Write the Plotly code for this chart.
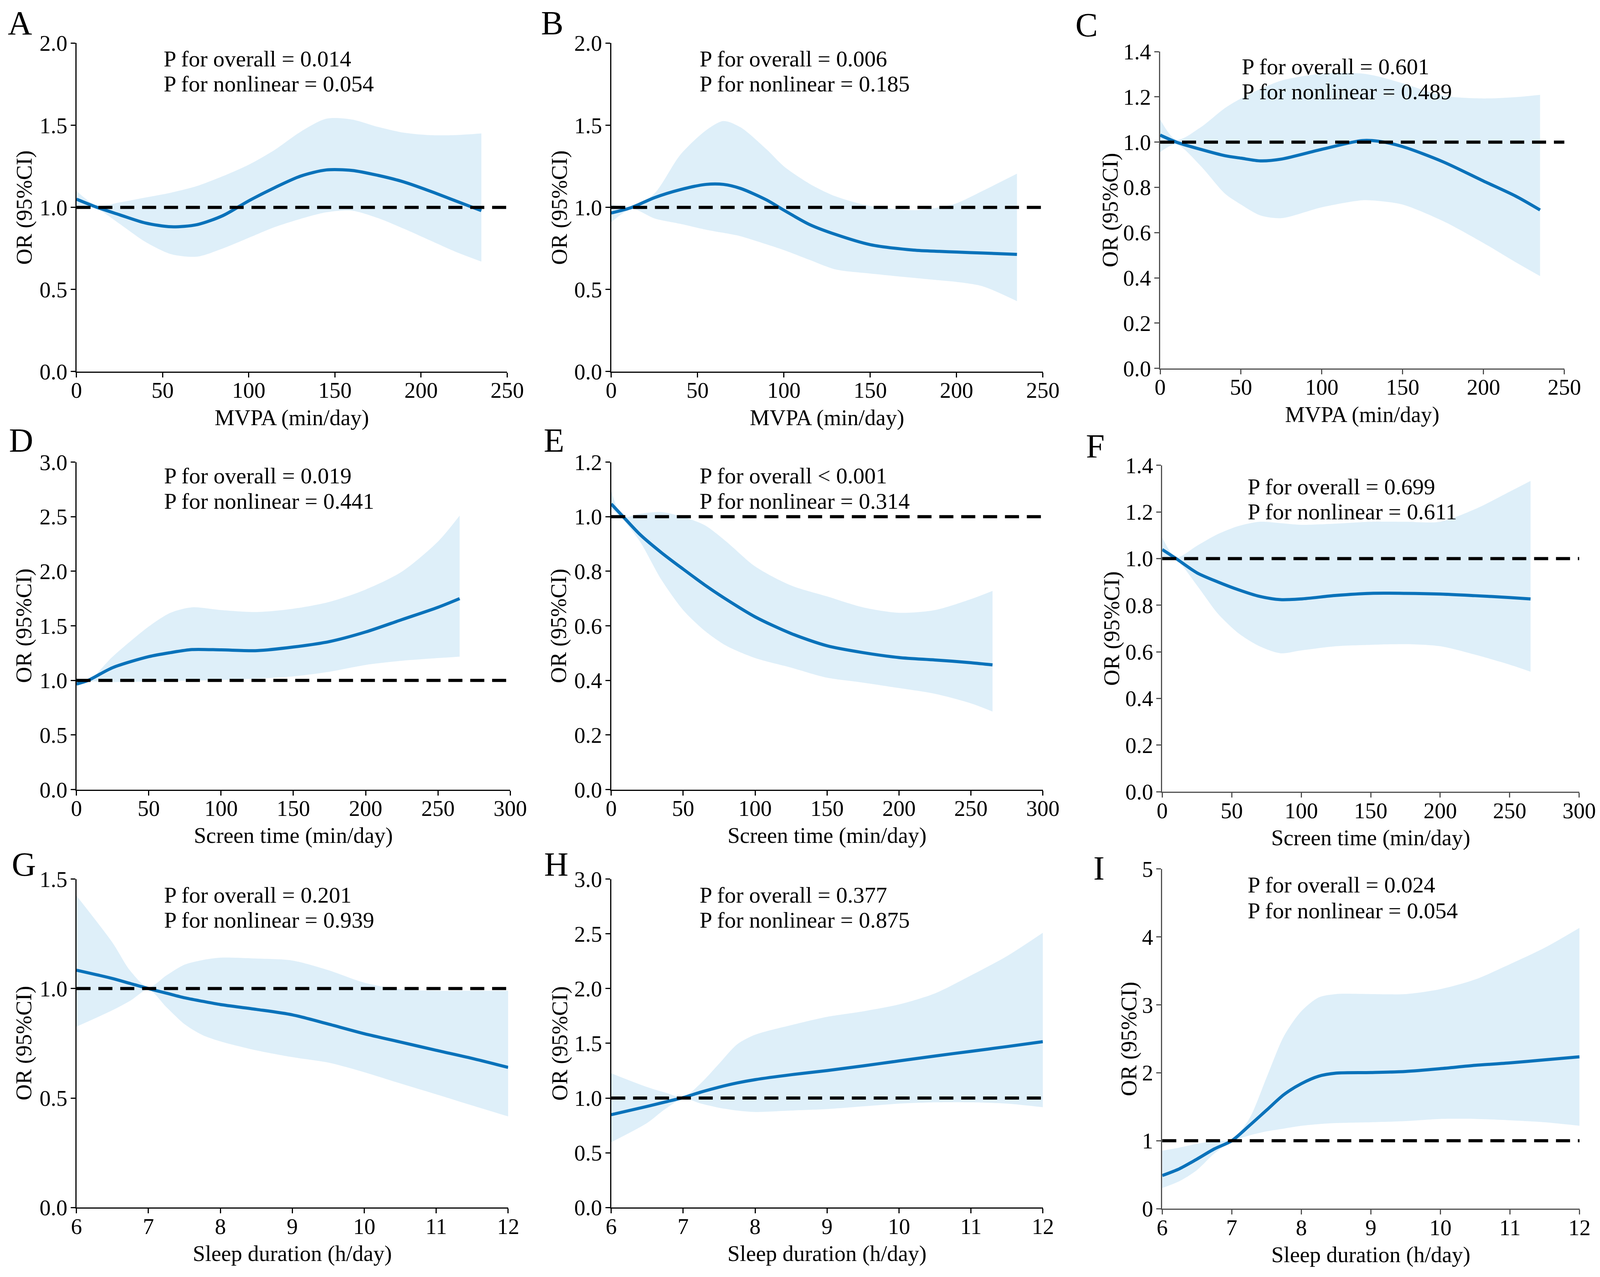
import plotly.graph_objects as go
from plotly.subplots import make_subplots

# ---------------- data ----------------
X_A = [0, 12, 25, 40, 55, 70, 85, 100, 115, 130, 145, 160, 175, 190, 205, 220, 235]
OR_A = [1.05, 1.00, 0.955, 0.905, 0.882, 0.895, 0.95, 1.04, 1.12, 1.19, 1.228, 1.225, 1.195, 1.155, 1.10, 1.04, 0.98]
HI_A = [1.10, 1.01, 1.03, 1.06, 1.09, 1.13, 1.19, 1.26, 1.35, 1.46, 1.54, 1.535, 1.49, 1.455, 1.44, 1.44, 1.45]
LO_A = [1.005, 0.99, 0.90, 0.79, 0.715, 0.70, 0.75, 0.815, 0.88, 0.93, 0.97, 0.98, 0.935, 0.87, 0.80, 0.73, 0.67]

X_B = [0, 12, 25, 40, 55, 65, 75, 90, 100, 115, 130, 150, 175, 190, 200, 215, 235]
OR_B = [0.966, 1.0, 1.059, 1.108, 1.14, 1.14, 1.115, 1.045, 0.983, 0.895, 0.835, 0.773, 0.74, 0.732, 0.728, 0.722, 0.714]
HI_B = [1.017, 1.0, 1.084, 1.32, 1.47, 1.526, 1.487, 1.353, 1.25, 1.143, 1.067, 1.008, 0.983, 1.0, 1.025, 1.10, 1.205]
LO_B = [0.91, 0.99, 0.933, 0.90, 0.864, 0.845, 0.824, 0.775, 0.74, 0.68, 0.622, 0.597, 0.571, 0.556, 0.546, 0.52, 0.429]

X_C = [0, 10, 25, 40, 50, 62, 75, 100, 125, 135, 150, 175, 200, 220, 235]
OR_C = [1.031, 1.0, 0.968, 0.94, 0.929, 0.917, 0.925, 0.968, 1.007, 1.004, 0.98, 0.913, 0.828, 0.761, 0.70]
HI_C = [1.10, 1.01, 1.065, 1.15, 1.193, 1.235, 1.272, 1.303, 1.303, 1.29, 1.26, 1.205, 1.193, 1.199, 1.209]
LO_C = [0.956, 0.99, 0.895, 0.773, 0.724, 0.676, 0.664, 0.712, 0.743, 0.74, 0.724, 0.651, 0.554, 0.469, 0.408]

X_D = [0, 8, 25, 50, 65, 80, 100, 125, 150, 175, 200, 225, 250, 265]
OR_D = [0.967, 1.0, 1.117, 1.218, 1.255, 1.283, 1.28, 1.273, 1.306, 1.356, 1.444, 1.557, 1.67, 1.75]
HI_D = [1.02, 1.0, 1.218, 1.494, 1.62, 1.67, 1.645, 1.627, 1.657, 1.72, 1.833, 1.996, 2.272, 2.51]
LO_D = [0.954, 0.99, 0.985, 0.99, 0.995, 0.998, 1.004, 1.017, 1.037, 1.08, 1.142, 1.18, 1.205, 1.218]

X_E = [0, 8, 20, 35, 50, 65, 80, 100, 125, 150, 175, 200, 225, 250, 265]
OR_E = [1.047, 1.002, 0.935, 0.868, 0.808, 0.75, 0.697, 0.633, 0.572, 0.527, 0.502, 0.484, 0.475, 0.465, 0.457]
HI_E = [1.095, 1.0, 1.011, 1.017, 0.999, 0.969, 0.909, 0.818, 0.748, 0.708, 0.668, 0.648, 0.658, 0.698, 0.728]
LO_E = [1.03, 0.99, 0.909, 0.768, 0.658, 0.582, 0.527, 0.482, 0.447, 0.41, 0.392, 0.372, 0.351, 0.316, 0.286]

X_F = [0, 10, 25, 40, 55, 70, 85, 100, 125, 150, 175, 200, 225, 250, 265]
OR_F = [1.039, 1.0, 0.939, 0.90, 0.866, 0.838, 0.824, 0.827, 0.842, 0.851, 0.851, 0.848, 0.841, 0.833, 0.827]
HI_F = [1.09, 1.005, 1.055, 1.105, 1.14, 1.158, 1.152, 1.145, 1.15, 1.158, 1.158, 1.158, 1.212, 1.287, 1.333]
LO_F = [1.006, 0.995, 0.885, 0.764, 0.679, 0.624, 0.594, 0.606, 0.624, 0.63, 0.633, 0.624, 0.588, 0.545, 0.515]

X_G = [6, 6.5, 6.75, 7, 7.25, 7.5, 7.75, 8, 8.5, 9, 9.5, 10, 10.5, 11, 11.5, 12]
OR_G = [1.084, 1.046, 1.023, 1.0, 0.979, 0.958, 0.942, 0.927, 0.905, 0.88, 0.838, 0.794, 0.756, 0.718, 0.681, 0.64]
HI_G = [1.424, 1.21, 1.08, 1.005, 1.06, 1.109, 1.13, 1.141, 1.137, 1.128, 1.084, 1.027, 0.996, 0.99, 0.99, 0.99]
LO_G = [0.826, 0.901, 0.945, 0.995, 0.915, 0.838, 0.788, 0.759, 0.718, 0.687, 0.662, 0.618, 0.567, 0.517, 0.466, 0.416]

X_H = [6, 6.5, 6.75, 7, 7.25, 7.5, 7.75, 8, 8.5, 9, 9.5, 10, 10.5, 11, 11.5, 12]
OR_H = [0.848, 0.924, 0.964, 1.004, 1.055, 1.1, 1.138, 1.168, 1.213, 1.251, 1.294, 1.339, 1.384, 1.427, 1.47, 1.515]
HI_H = [1.226, 1.10, 1.05, 1.01, 1.138, 1.314, 1.49, 1.578, 1.666, 1.742, 1.792, 1.855, 1.956, 2.12, 2.296, 2.51]
LO_H = [0.597, 0.773, 0.899, 0.995, 0.949, 0.911, 0.886, 0.873, 0.886, 0.899, 0.924, 0.949, 0.961, 0.961, 0.949, 0.916]

X_I = [6, 6.25, 6.5, 6.75, 7, 7.25, 7.5, 7.75, 8, 8.25, 8.5, 9, 9.5, 10, 10.5, 11, 11.5, 12]
OR_I = [0.488, 0.589, 0.73, 0.88, 1.0, 1.22, 1.45, 1.68, 1.84, 1.95, 1.995, 2.004, 2.02, 2.061, 2.11, 2.146, 2.191, 2.236]
HI_I = [0.854, 0.90, 0.955, 0.996, 1.02, 1.321, 1.931, 2.541, 2.907, 3.11, 3.159, 3.159, 3.159, 3.232, 3.374, 3.598, 3.841, 4.134]
LO_I = [0.305, 0.407, 0.569, 0.813, 0.99, 1.077, 1.138, 1.179, 1.22, 1.245, 1.26, 1.272, 1.289, 1.321, 1.321, 1.301, 1.272, 1.22]

LETTERS = ["A", "B", "C", "D", "E", "F", "G", "H", "I"]
X_TITLES = ["MVPA (min/day)"] * 3 + ["Screen time (min/day)"] * 3 + ["Sleep duration (h/day)"] * 3
Y_TITLE = "OR (95%CI)"
P_OVERALL = ["P for overall = 0.014", "P for overall = 0.006", "P for overall = 0.601",
             "P for overall = 0.019", "P for overall < 0.001", "P for overall = 0.699",
             "P for overall = 0.201", "P for overall = 0.377", "P for overall = 0.024"]
P_NONLIN = ["P for nonlinear = 0.054", "P for nonlinear = 0.185", "P for nonlinear = 0.489",
            "P for nonlinear = 0.441", "P for nonlinear = 0.314", "P for nonlinear = 0.611",
            "P for nonlinear = 0.939", "P for nonlinear = 0.875", "P for nonlinear = 0.054"]
X_RANGES = [[0, 250]] * 3 + [[0, 300]] * 3 + [[6, 12]] * 3
X_DTICK = [50] * 6 + [1] * 3
Y_RANGES = [[0, 2], [0, 2], [0, 1.4], [0, 3], [0, 1.2], [0, 1.4], [0, 1.5], [0, 3], [0, 5]]
Y_DTICK = [0.5, 0.5, 0.2, 0.5, 0.2, 0.2, 0.5, 0.5, 1]
Y_FMT = [".1f"] * 8 + ["d"]
REF_OR = 1.0

SERIES = [(X_A, OR_A, LO_A, HI_A), (X_B, OR_B, LO_B, HI_B), (X_C, OR_C, LO_C, HI_C),
          (X_D, OR_D, LO_D, HI_D), (X_E, OR_E, LO_E, HI_E), (X_F, OR_F, LO_F, HI_F),
          (X_G, OR_G, LO_G, HI_G), (X_H, OR_H, LO_H, HI_H), (X_I, OR_I, LO_I, HI_I)]

# ---------------- layout / style ----------------
X_DOMAINS = [[0.0478, 0.3170], [0.3820, 0.6518], [0.7251, 0.9777],
             [0.0478, 0.3189], [0.3820, 0.6518], [0.7264, 0.9870],
             [0.0478, 0.3176], [0.3820, 0.6518], [0.7264, 0.9872]]
Y_DOMAINS = [[0.7090, 0.9662], [0.7090, 0.9662], [0.7115, 0.9596],
             [0.3817, 0.6381], [0.3817, 0.6381], [0.3800, 0.6356],
             [0.0544, 0.3116], [0.0544, 0.3116], [0.0535, 0.3195]]
LETTER_POS = [(0.0125, 0.9818), (0.3450, 0.9818), (0.6790, 0.9805),
              (0.0133, 0.6550), (0.3463, 0.6550), (0.6845, 0.6505),
              (0.0148, 0.3232), (0.3476, 0.3232), (0.6869, 0.3200)]
YTITLE_X = [0.0151, 0.3496, 0.6940, 0.0149, 0.3490, 0.6947, 0.0149, 0.3498, 0.7055]
ANN_X = [0.201, 0.203, 0.200, 0.200, 0.203, 0.203, 0.201, 0.203, 0.203]
ANN_Y1 = [0.952, 0.952, 0.952, 0.958, 0.958, 0.935, 0.952, 0.952, 0.953]
ANN_Y2 = [0.876, 0.876, 0.874, 0.881, 0.881, 0.858, 0.875, 0.875, 0.877]
AXIS_COLORS = ["black", "black", "#505050"] * 3

FONT = "Liberation Serif"
LINE_COLOR = "#0A72BA"
BAND_COLOR = "#DEEFF9"
FS = 57

fig = make_subplots(rows=3, cols=3)

for i, (xs, orv, lo, hi) in enumerate(SERIES):
    r, c = i // 3 + 1, i % 3 + 1
    fig.add_trace(go.Scatter(x=xs, y=lo, mode="lines", line=dict(width=0, shape="spline", smoothing=0.8),
                             showlegend=False, hoverinfo="skip"), row=r, col=c)
    fig.add_trace(go.Scatter(x=xs, y=hi, mode="lines", line=dict(width=0, shape="spline", smoothing=0.8),
                             fill="tonexty", fillcolor=BAND_COLOR, showlegend=False, hoverinfo="skip"),
                  row=r, col=c)
    fig.add_trace(go.Scatter(x=xs, y=orv, mode="lines",
                             line=dict(color=LINE_COLOR, width=8, shape="spline", smoothing=0.8),
                             showlegend=False), row=r, col=c)
    fig.add_hline(y=REF_OR, line=dict(color="black", width=8, dash="36px,20px"), row=r, col=c)

for i in range(9):
    n = "" if i == 0 else str(i + 1)
    ac = AXIS_COLORS[i]
    fig.layout["xaxis" + n].update(
        domain=X_DOMAINS[i], range=X_RANGES[i], dtick=X_DTICK[i], tick0=X_RANGES[i][0],
        showline=True, linecolor=ac, linewidth=3, ticks="outside", ticklen=12, tickwidth=3,
        tickcolor=ac, showgrid=False, zeroline=False, automargin=False, ticklabelstandoff=-16,
        tickfont=dict(family=FONT, size=FS, color="black"),
        title=dict(text=X_TITLES[i], font=dict(family=FONT, size=FS, color="black"), standoff=19),
        anchor="y" + n)
    fig.layout["yaxis" + n].update(
        domain=Y_DOMAINS[i], range=Y_RANGES[i], dtick=Y_DTICK[i], tick0=0, tickformat=Y_FMT[i],
        showline=True, linecolor=ac, linewidth=3, ticks="outside", ticklen=12, tickwidth=3,
        tickcolor=ac, showgrid=False, zeroline=False, automargin=False, ticklabelstandoff=-3,
        tickfont=dict(family=FONT, size=FS, color="black"),
        anchor="x" + n)
    # y-axis title
    fig.add_annotation(text=Y_TITLE, xref="paper", yref="y" + n + " domain",
                       x=YTITLE_X[i], y=0.5, xanchor="center", yanchor="middle", textangle=-90,
                       showarrow=False, font=dict(family=FONT, size=FS, color="black"))
    fig.add_annotation(text=P_OVERALL[i], xref="x" + n + " domain", yref="y" + n + " domain",
                       x=ANN_X[i], y=ANN_Y1[i], xanchor="left", yanchor="middle", showarrow=False,
                       font=dict(family=FONT, size=FS + 1, color="black"))
    fig.add_annotation(text=P_NONLIN[i], xref="x" + n + " domain", yref="y" + n + " domain",
                       x=ANN_X[i], y=ANN_Y2[i], xanchor="left", yanchor="middle", showarrow=False,
                       font=dict(family=FONT, size=FS + 1, color="black"))
    fig.add_annotation(text=LETTERS[i], xref="paper", yref="paper", x=LETTER_POS[i][0], y=LETTER_POS[i][1],
                       xanchor="center", yanchor="middle", showarrow=False,
                       font=dict(family=FONT, size=86, color="black"))

# the figure fills the browser window exactly
fig.update_layout(autosize=True,
                  margin=dict(l=0, r=0, t=0, b=0, pad=0, autoexpand=False),
                  paper_bgcolor="white", plot_bgcolor="white", showlegend=False)

fig.write_html("out.html", default_width="100vw", default_height="100vh",
               config={"displayModeBar": False},
               post_script="document.documentElement.style.margin='0';"
                           "document.body.style.margin='0';"
                           "document.documentElement.style.overflow='hidden';"
                           "document.body.style.overflow='hidden';")
